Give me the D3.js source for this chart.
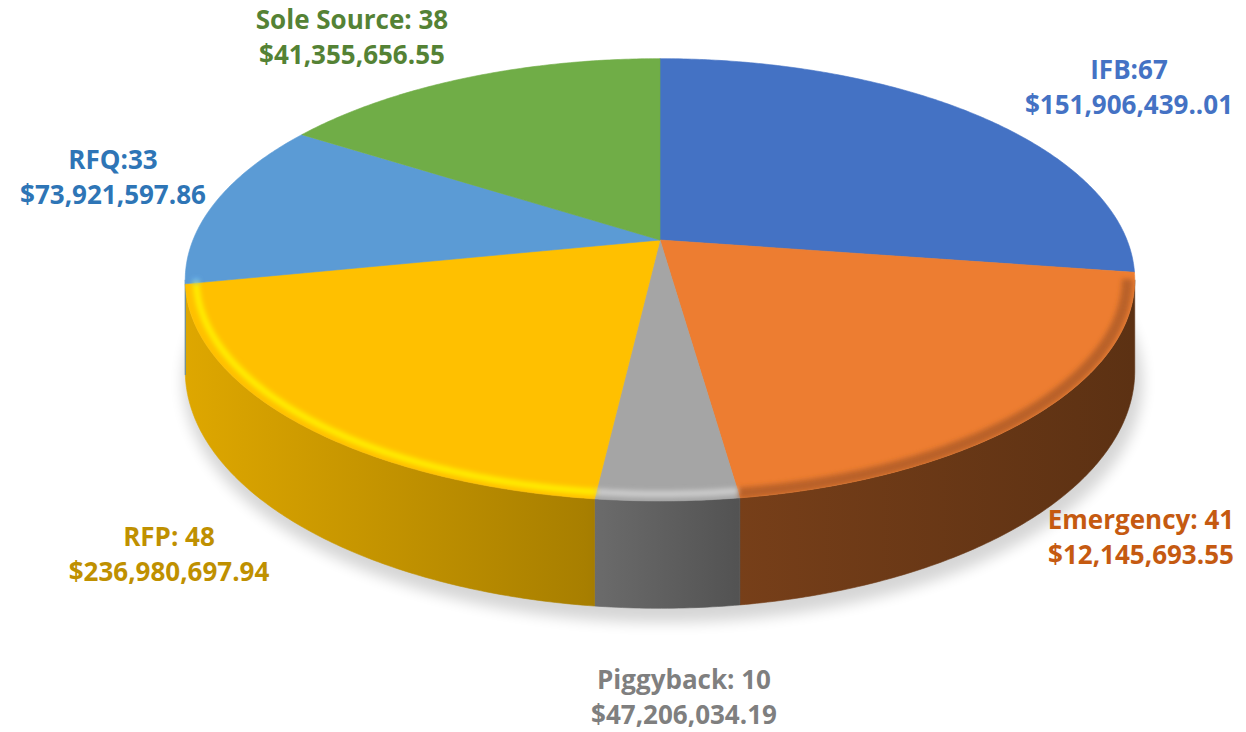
<!DOCTYPE html>
<html>
<head>
<meta charset="utf-8">
<script src="https://cdn.jsdelivr.net/npm/d3@7"></script>
<style>
  body { margin: 0; background: #fff; }
  svg { display: block; }
</style>
</head>
<body>
<svg id="chart" width="1246" height="732"></svg>
<script>
// data
const categories = ["IFB", "Emergency", "Piggyback", "RFP", "RFQ", "Sole Source"];
const counts = [67, 41, 10, 48, 33, 38];
const separators = [":", ": ", ": ", ": ", ":", ": "];
const amounts = ["$151,906,439..01", "$12,145,693.55", "$47,206,034.19",
                 "$236,980,697.94", "$73,921,597.86", "$41,355,656.55"];
// slice sizes as drawn in the picture (the Emergency wedge is wider than its label)
const sliceValues = [67, 50, 10, 49, 30, 39];

const colors = ["#4472C4", "#ED7D31", "#A5A5A5", "#FFC000", "#5B9BD5", "#70AD47"];
const labelColors = ["#4472C4", "#C55A11", "#7F7F7F", "#BF9000", "#2E75B6", "#548235"];
// label anchor (centre x, first baseline)
const labelPos = [[1129, 79], [1141, 529], [684, 689], [169, 546], [113, 169], [352, 29]];

const svg = d3.select("#chart");
const defs = svg.append("defs");

// perspective projection of the pie plane
const cx = 660, cy = 240, A = 467, B = 214, H = 88, k = 0.18;
function proj(theta, r, h) {
    const u = r * Math.sin(theta), v = -r * Math.cos(theta);
    const w = 1 - k * v;
    return [cx + A * u / w, cy + (B * v + h) / w];
}
function arcPts(a0, a1, r, h) {
    const n = Math.max(2, Math.ceil((a1 - a0) / 0.01));
    return d3.range(n + 1).map(i => proj(a0 + (a1 - a0) * i / n, r, h));
}
const line = d3.line();

const pie = d3.pie().sort(null).value(d => d);
const arcs = pie(sliceValues);

// visible part of the rim: between the two silhouette points
const thR = Math.acos(-k), thL = 2 * Math.PI - thR;
const front = arcs.map((d, i) => ({ d, i, a0: Math.max(d.startAngle, thR), a1: Math.min(d.endAngle, thL) }))
    .filter(o => o.a1 > o.a0);

function scaleColor(c, f) {
    const rgb = d3.rgb(c);
    return d3.rgb(rgb.r * f, rgb.g * f, rgb.b * f).formatHex();
}

// filters
defs.append("filter").attr("id", "shadowBlur")
    .attr("x", "-20%").attr("y", "-20%").attr("width", "140%").attr("height", "140%")
    .append("feGaussianBlur").attr("stdDeviation", 7);
defs.append("filter").attr("id", "bevelBlur")
    .attr("filterUnits", "userSpaceOnUse")
    .attr("x", 0).attr("y", 0).attr("width", 1246).attr("height", 732)
    .append("feGaussianBlur").attr("stdDeviation", 2.4);

// side gradients (light from the left)
const sideStops = [[0, 0.87], [0.42, 0.66], [0.58, 0.5], [1, 0.39]];
arcs.forEach((d, i) => {
    const g = defs.append("linearGradient").attr("id", "side" + i)
        .attr("gradientUnits", "userSpaceOnUse")
        .attr("x1", cx - 475).attr("x2", cx + 475).attr("y1", 0).attr("y2", 0);
    sideStops.forEach(s => g.append("stop").attr("offset", s[0])
        .attr("stop-color", scaleColor(colors[i], s[1])));
});

// clip for bevel: whole top face
defs.append("clipPath").attr("id", "topClip")
    .append("path").attr("d", line(arcPts(0, 2 * Math.PI, 1, 0)) + "Z");

// drop shadow under the pie
svg.append("path")
    .attr("d", line(arcPts(0, 2 * Math.PI, 1.01, H + 4)) + "Z")
    .attr("fill", "#000").attr("opacity", 0.16)
    .attr("transform", "translate(3,6)")
    .attr("filter", "url(#shadowBlur)");

// side walls (visible front part)
svg.append("g").selectAll("path")
    .data(front)
    .join("path")
    .attr("d", o => {
        const top = arcPts(o.a0, o.a1, 1, 0);
        const bot = arcPts(o.a0, o.a1, 1, H).reverse();
        return line(top.concat(bot)) + "Z";
    })
    .attr("fill", o => "url(#side" + o.i + ")")
    .attr("stroke", o => "url(#side" + o.i + ")")
    .attr("stroke-width", 0.6);

// top faces
svg.append("g").selectAll("path")
    .data(arcs)
    .join("path")
    .attr("d", d => line([[cx, cy]].concat(arcPts(d.startAngle, d.endAngle, 1, 0))) + "Z")
    .attr("fill", (d, i) => colors[i])
    .attr("stroke", (d, i) => colors[i])
    .attr("stroke-width", 0.6);

// soft bevel along the front rim: lit on the left, shaded on the right
const lit = o => proj((o.a0 + o.a1) / 2, 1, 0)[0] < cx + 40;
svg.append("g").attr("clip-path", "url(#topClip)")
    .selectAll("path")
    .data(front)
    .join("path")
    .attr("d", o => line(arcPts(o.a0, o.a1, lit(o) ? 0.978 : 0.985, 0)))
    .attr("fill", "none")
    .attr("stroke", o => lit(o) ? d3.color(colors[o.i]).brighter(0.7).formatHex()
                                : d3.color(colors[o.i]).darker(0.9).formatHex())
    .attr("stroke-opacity", o => lit(o) ? 0.9 : 0.8)
    .attr("stroke-width", o => lit(o) ? 6 : 11)
    .attr("filter", "url(#bevelBlur)");

// labels
const labels = svg.append("g")
    .attr("font-family", "'Open Sans', 'Noto Sans', sans-serif")
    .attr("font-weight", "bold")
    .attr("font-size", 26)
    .attr("text-anchor", "middle");
const lab = labels.selectAll("text")
    .data(categories)
    .join("text")
    .attr("fill", (d, i) => labelColors[i])
    .attr("x", (d, i) => labelPos[i][0])
    .attr("y", (d, i) => labelPos[i][1]);
lab.append("tspan")
    .attr("x", (d, i) => labelPos[i][0])
    .text((d, i) => d + separators[i] + counts[i]);
lab.append("tspan")
    .attr("x", (d, i) => labelPos[i][0])
    .attr("dy", 35)
    .text((d, i) => amounts[i]);
</script>
</body>
</html>
